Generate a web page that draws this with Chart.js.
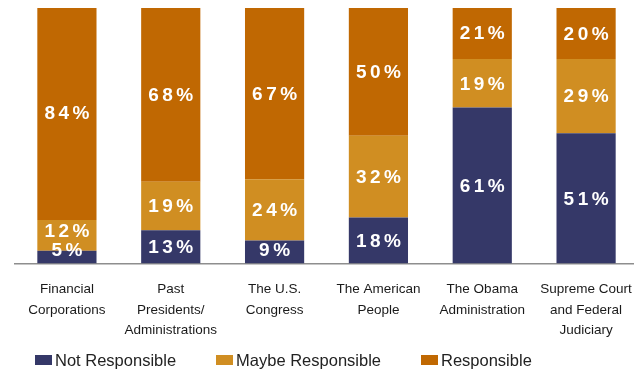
<!DOCTYPE html>
<html>
<head>
<meta charset="utf-8">
<script src="https://cdn.jsdelivr.net/npm/chart.js@4"></script>
<style>
    html, body { margin: 0; padding: 0; background: #fff; overflow: hidden; }
    #wrap { position: relative; width: 640px; height: 370px; }
    #responsibilityChart { display: block; }
    #legend {
        position: absolute; left: 35px; top: 351px;
        display: flex; gap: 40px;
        font: 16.5px "Liberation Sans", Arial, sans-serif; color: #222;
        line-height: 18px;
    }
    #legend .item { display: flex; align-items: center; white-space: nowrap; }
    #legend .box { width: 17px; height: 10px; margin-right: 3px; }
</style>
</head>
<body>
<div id="wrap">
    <canvas id="responsibilityChart" width="640" height="370"></canvas>
    <div id="legend"></div>
</div>
<script>
const categories = [
    ['Financial', 'Corporations'],
    ['Past', 'Presidents/', 'Administrations'],
    ['The U.S.', 'Congress'],
    ['The American', 'People'],
    ['The Obama', 'Administration'],
    ['Supreme Court', 'and Federal', 'Judiciary']
];
const notResponsible = [5, 13, 9, 18, 61, 51];
const maybeResponsible = [12, 19, 24, 32, 19, 29];
const responsible = [84, 68, 67, 50, 21, 20];

const seriesNames = ['Not Responsible', 'Maybe Responsible', 'Responsible'];
const seriesColors = ['#353868', '#d08e22', '#c06802'];

// writes the percentage inside each segment, nudging short ones upward
const segmentLabels = {
    id: 'segmentLabels',
    afterDatasetsDraw(chart) {
        const ctx = chart.ctx;
        const bottom = chart.chartArea.bottom;
        ctx.save();
        ctx.font = 'bold 19px "Liberation Sans", Arial, sans-serif';
        ctx.fillStyle = '#ffffff';
        ctx.textAlign = 'center';
        ctx.textBaseline = 'middle';
        ctx.letterSpacing = '3.5px';
        chart.data.labels.forEach((_, i) => {
            let prevY = bottom + 5;
            chart.data.datasets.forEach((ds, d) => {
                const bar = chart.getDatasetMeta(d).data[i];
                const center = (bar.y + bar.base) / 2;
                const y = Math.min(center, prevY - 19);
                ctx.fillText(ds.data[i] + '%', bar.x + 1.75, y + 1);
                prevY = y;
            });
        });
        ctx.restore();
    }
};

const chart = new Chart(document.getElementById('responsibilityChart'), {
    type: 'bar',
    data: {
        labels: categories,
        datasets: [
            { label: seriesNames[0], data: notResponsible, backgroundColor: seriesColors[0] },
            { label: seriesNames[1], data: maybeResponsible, backgroundColor: seriesColors[1] },
            { label: seriesNames[2], data: responsible, backgroundColor: seriesColors[2] }
        ]
    },
    options: {
        responsive: false,
        animation: false,
        layout: { padding: { left: 15, right: 2, top: 8, bottom: 29 } },
        datasets: { bar: { categoryPercentage: 1, barPercentage: 0.57 } },
        scales: {
            x: {
                stacked: true,
                // tick marks are not drawn, tickLength only spaces the labels off the axis
                grid: { display: false, drawTicks: true, tickLength: 16 },
                border: { display: true, color: '#8e8e8e', width: 1.5 },
                ticks: {
                    padding: 0,
                    maxRotation: 0,
                    autoSkip: false,
                    color: '#1a1a1a',
                    font: { family: '"Liberation Sans", Arial, sans-serif', size: 13.5, lineHeight: 1.52 }
                }
            },
            y: { stacked: true, display: false, min: 0, max: 100 }
        },
        plugins: {
            legend: { display: false },
            tooltip: { enabled: false }
        }
    },
    plugins: [segmentLabels]
});

// legend built from the datasets
const legend = document.getElementById('legend');
chart.data.datasets.forEach(ds => {
    const item = document.createElement('div');
    item.className = 'item';
    item.innerHTML = `<span class="box" style="background:${ds.backgroundColor}"></span>${ds.label}`;
    legend.appendChild(item);
});
</script>
</body>
</html>
